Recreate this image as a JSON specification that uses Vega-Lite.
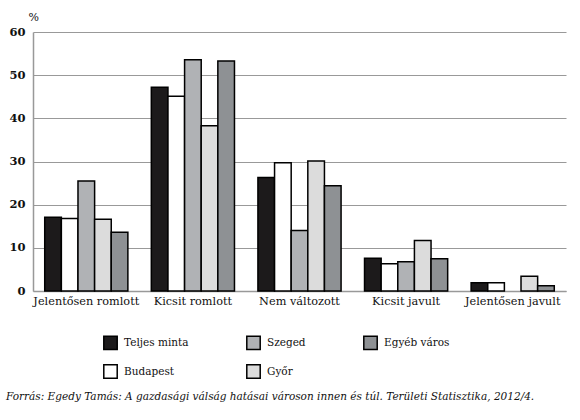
{
  "$schema": "https://vega.github.io/schema/vega-lite/v6.json",
  "autosize": "none",
  "width": 533,
  "height": 259,
  "padding": {"left": 33, "top": 32, "right": 14, "bottom": 129},
  "background": "white",
  "title": {
    "text": "Forrás: Egedy Tamás: A gazdasági válság hatásai városon innen és túl. Területi Statisztika, 2012/4.",
    "orient": "bottom",
    "anchor": "start",
    "frame": "bounds",
    "font": "DejaVu Serif",
    "fontStyle": "italic",
    "fontWeight": "normal",
    "fontSize": 10.5,
    "color": "#111",
    "offset": 10,
    "dx": -3
  },
  "data": {
    "values": [
      {"cat": "Jelentősen romlott", "grp": "Teljes minta", "v": 17.1},
      {"cat": "Jelentősen romlott", "grp": "Budapest", "v": 16.8},
      {"cat": "Jelentősen romlott", "grp": "Szeged", "v": 25.5},
      {"cat": "Jelentősen romlott", "grp": "Győr", "v": 16.6},
      {"cat": "Jelentősen romlott", "grp": "Egyéb város", "v": 13.6},
      {"cat": "Kicsit romlott", "grp": "Teljes minta", "v": 47.2},
      {"cat": "Kicsit romlott", "grp": "Budapest", "v": 45.1},
      {"cat": "Kicsit romlott", "grp": "Szeged", "v": 53.6},
      {"cat": "Kicsit romlott", "grp": "Győr", "v": 38.3},
      {"cat": "Kicsit romlott", "grp": "Egyéb város", "v": 53.3},
      {"cat": "Nem változott", "grp": "Teljes minta", "v": 26.3},
      {"cat": "Nem változott", "grp": "Budapest", "v": 29.7},
      {"cat": "Nem változott", "grp": "Szeged", "v": 14.0},
      {"cat": "Nem változott", "grp": "Győr", "v": 30.1},
      {"cat": "Nem változott", "grp": "Egyéb város", "v": 24.4},
      {"cat": "Kicsit javult", "grp": "Teljes minta", "v": 7.6},
      {"cat": "Kicsit javult", "grp": "Budapest", "v": 6.3},
      {"cat": "Kicsit javult", "grp": "Szeged", "v": 6.8},
      {"cat": "Kicsit javult", "grp": "Győr", "v": 11.7},
      {"cat": "Kicsit javult", "grp": "Egyéb város", "v": 7.5},
      {"cat": "Jelentősen javult", "grp": "Teljes minta", "v": 1.9},
      {"cat": "Jelentősen javult", "grp": "Budapest", "v": 1.9},
      {"cat": "Jelentősen javult", "grp": "Győr", "v": 3.4},
      {"cat": "Jelentősen javult", "grp": "Egyéb város", "v": 1.2}
    ]
  },
  "mark": {"type": "bar", "stroke": "black", "strokeWidth": 1.5},
  "encoding": {
    "x": {
      "field": "cat",
      "type": "nominal",
      "sort": ["Jelentősen romlott", "Kicsit romlott", "Nem változott", "Kicsit javult", "Jelentősen javult"],
      "scale": {"paddingInner": 0.22, "paddingOuter": 0.11},
      "axis": {
        "title": null,
        "labelAngle": 0,
        "labelFont": "DejaVu Serif",
        "labelFontSize": 11.3,
        "labelColor": "#111",
        "labelPadding": 4,
        "ticks": false,
        "domainColor": "#999",
        "domainWidth": 1.5
      }
    },
    "xOffset": {
      "field": "grp",
      "type": "nominal",
      "sort": ["Teljes minta", "Budapest", "Szeged", "Győr", "Egyéb város"],
      "scale": {"paddingInner": 0, "paddingOuter": 0}
    },
    "y": {
      "field": "v",
      "type": "quantitative",
      "scale": {"domain": [0, 60], "nice": false},
      "axis": {
        "title": "%",
        "titleAngle": 0,
        "titleX": -5,
        "titleY": -10,
        "titleAlign": "left",
        "titleBaseline": "bottom",
        "titleFont": "DejaVu Serif",
        "titleFontSize": 11,
        "titleFontWeight": "normal",
        "titleColor": "#111",
        "values": [0, 10, 20, 30, 40, 50, 60],
        "labelFont": "DejaVu Serif",
        "labelFontSize": 11.5,
        "labelFontWeight": "bold",
        "labelColor": "#111",
        "labelPadding": 8,
        "ticks": false,
        "domainColor": "#999",
        "domainWidth": 1.5,
        "gridColor": "#999",
        "gridWidth": 1.2
      }
    },
    "fill": {
      "field": "grp",
      "type": "nominal",
      "scale": {
        "domain": ["Teljes minta", "Budapest", "Szeged", "Győr", "Egyéb város"],
        "range": ["#1c1a1b", "#ffffff", "#b0b2b5", "#dcdcdc", "#8e9194"]
      },
      "legend": {
        "title": null,
        "orient": "none",
        "legendX": 70,
        "legendY": 303,
        "columns": 3,
        "columnPadding": 54,
        "rowPadding": 8,
        "symbolType": "square",
        "symbolSize": 180,
        "symbolStrokeColor": "black",
        "symbolStrokeWidth": 1.5,
        "symbolOffset": 0,
        "labelOffset": 6,
        "labelFont": "DejaVu Serif",
        "labelFontSize": 10.5,
        "labelColor": "#111"
      }
    }
  },
  "config": {
    "view": {"stroke": null}
  }
}
